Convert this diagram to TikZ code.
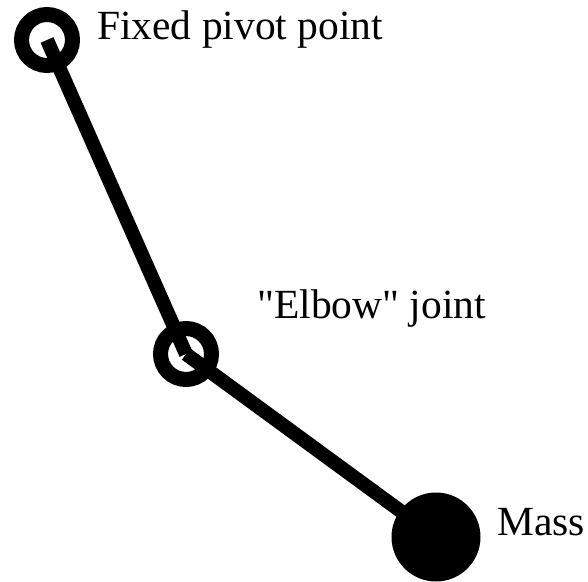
\documentclass[tikz,border=0pt]{standalone}
\usepackage{fontspec}
\setmainfont{Liberation Serif}
\newfontfamily\labelfont{Liberation Serif}
\begin{document}
\begin{tikzpicture}[x=1pt,y=1pt,
  ring/.style={circle,draw=black,line width=15pt,minimum size=51pt,inner sep=0pt,outer sep=0pt},
  massbob/.style={circle,fill=black,minimum size=89pt,inner sep=0pt,outer sep=0pt},
  rod/.style={line width=14pt,line cap=butt},
  lbl/.style={anchor=base west,inner sep=0pt,font=\labelfont\fontsize{41.5}{48}\selectfont}]
\useasboundingbox (0,0) rectangle (588,581);
\node[ring] (pivot) at (47,541) {};
\node[ring] (elbow) at (186,227) {};
\node[massbob] (mass) at (436,44) {};
\draw[rod] (pivot.center) -- (elbow.center);
\draw[rod] (elbow.center) -- (mass.center);
\node[lbl] (tpivot) at (97,541) {Fixed pivot point};
\node[lbl] (telbow) at (257,262) {"Elbow" joint};
\node[lbl] (tmass) at (497,46) {Mass};
\end{tikzpicture}
\end{document}
